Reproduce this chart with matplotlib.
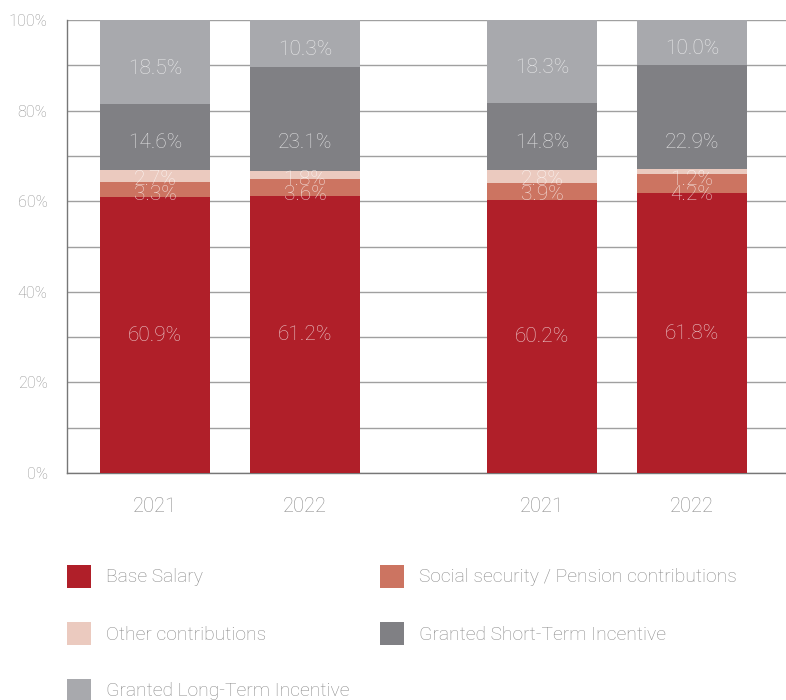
import matplotlib
matplotlib.use("Agg")
import matplotlib.pyplot as plt
from matplotlib.patches import Rectangle
import numpy as np

plt.rcParams['font.family'] = ['Roboto', 'DejaVu Sans']

# Data
years = ["2021", "2022", "2021", "2022"]
base_salary = [60.9, 61.2, 60.2, 61.8]
social_pension = [3.3, 3.6, 3.9, 4.2]
other_contrib = [2.7, 1.8, 2.8, 1.2]
short_term = [14.6, 23.1, 14.8, 22.9]
long_term = [18.5, 10.3, 18.3, 10.0]

series_names = ["Base Salary", "Social security / Pension contributions",
                "Other contributions", "Granted Short-Term Incentive",
                "Granted Long-Term Incentive"]
series_values = [base_salary, social_pension, other_contrib, short_term, long_term]
colors = ["#B01F29", "#CC7461", "#EBCABF", "#808084", "#A8A9AD"]


def label_height(idx, bottom, value):
    """Vertical position (in %) of the value label for a segment."""
    if idx == 1:        # thin segments share fixed label rows
        return 61.5
    if idx == 2:
        return 64.9
    if idx == 3:        # labels sit in the lower part of the short-term block
        return 72.9
    if idx == 4:
        return bottom + value / 2 - 1.4
    return bottom + value / 2


positions = [0, 1, 2.58, 3.58]
bar_width = 0.733

fig = plt.figure(figsize=(7.86, 7.0), dpi=100)
ax = fig.add_axes([67 / 786, 1 - 473 / 700, 1 - 67 / 786, (473 - 20) / 700])

bottom = np.zeros(len(years))
for i, (name, vals, col) in enumerate(zip(series_names, series_values, colors)):
    vals = np.array(vals)
    ax.bar(positions, vals, bottom=bottom, width=bar_width, color=col,
           zorder=3, linewidth=0)
    for x, b, v in zip(positions, bottom, vals):
        ax.text(x, label_height(i, b, v), f"{v:.1f}%", ha="center", va="center",
                fontsize=15, color="white", alpha=0.75, zorder=4,
                fontweight="light")
    bottom += vals

ax.set_xlim(-0.587, 4.207)
ax.set_ylim(0, 100)
ax.set_yticks(np.arange(0, 101, 10))
ax.set_yticklabels([f"{t}%" if t % 20 == 0 else "" for t in range(0, 101, 10)])
ax.yaxis.grid(True, color="#a0a0a0", linewidth=1.0, zorder=0)
ax.set_axisbelow(True)
ax.tick_params(axis="y", length=0, pad=14, labelsize=11.8, labelcolor="#959595")
ax.set_xticks(positions)
ax.set_xticklabels(years)
ax.tick_params(axis="x", length=0, pad=17, labelsize=14.5, labelcolor="#8a8a8a")
for lbl in ax.get_xticklabels() + ax.get_yticklabels():
    lbl.set_fontweight("light")

for s in ["top", "right"]:
    ax.spines[s].set_visible(False)
ax.spines["left"].set_color("#777777")
ax.spines["bottom"].set_color("#777777")
ax.spines["left"].set_linewidth(1.0)
ax.spines["bottom"].set_linewidth(1.0)

# Legend, two columns
col_x = [67, 380]
row_y = [576, 633, 690]
for i, (name, col) in enumerate(zip(series_names, colors)):
    cx = col_x[i % 2]
    cy = row_y[i // 2]
    fig.add_artist(Rectangle((cx / 786, 1 - (cy + 12) / 700), 24 / 786, 23 / 700,
                             transform=fig.transFigure, color=col, linewidth=0))
    fig.text((cx + 39) / 786, 1 - (cy + 1.5) / 700, name, ha="left", va="center",
             fontsize=13.9, color="#8a8a8a", fontweight="light")

fig.savefig("out.png", dpi=100)
